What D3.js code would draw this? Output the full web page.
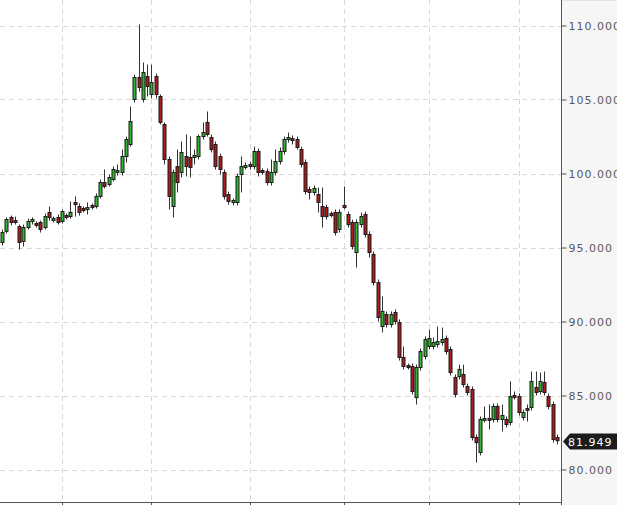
<!DOCTYPE html>
<html>
<head>
<meta charset="utf-8">
<script src="https://cdn.jsdelivr.net/npm/d3@7"></script>
<style>
  html, body { margin: 0; padding: 0; background: #fff; }
  svg { display: block; }
  .ylab { font-family: "DejaVu Sans", sans-serif; font-size: 11px; fill: #5a5a5a; letter-spacing: 1px; }
</style>
</head>
<body>
<div id="chart"></div>
<script>
// daily candles
const opens  = [95.34,96.09,97.03,96.82,96.41,95.41,96.35,96.76,96.62,96.69,96.35,97.37,96.82,97.03,96.76,97.16,97.09,98.04,97.77,97.63,
                97.57,97.84,97.77,98.45,99.39,99.26,99.59,100.07,100.07,101.15,101.96,105.00,106.49,105.00,106.55,105.34,106.55,105.20,103.31,100.95,
                97.77,100.47,100.07,101.15,101.08,101.08,101.15,102.50,103.45,102.43,101.96,101.15,100.07,98.58,98.04,98.04,99.93,100.41,100.61,100.47,
                101.49,100.20,100.14,99.39,100.07,100.81,101.49,102.30,102.36,102.30,101.62,100.74,98.92,98.72,98.58,97.77,97.70,97.30,97.37,96.22,
                97.84,97.23,96.69,94.66,96.55,97.23,95.88,94.53,92.63,89.66,90.47,89.80,90.61,89.93,87.57,87.03,86.96,84.86,86.89,87.64,
                88.31,88.31,88.45,88.58,88.85,88.11,86.22,86.28,86.42,85.61,85.41,82.16,81.15,83.32,83.45,83.38,84.26,83.38,83.38,83.18,
                85.00,84.93,83.51,84.12,84.19,85.54,85.27,85.88,84.93,84.39,82.16];
const highs  = [96.22,97.03,97.16,97.09,96.55,96.55,96.96,97.03,96.76,96.82,97.30,97.77,97.09,97.23,97.57,97.30,98.11,98.45,97.97,97.77,
                98.04,97.97,98.65,99.59,100.27,99.93,100.47,100.61,101.62,102.50,104.53,106.69,110.07,107.50,107.36,107.36,106.76,105.34,103.45,101.15,
                100.27,101.62,102.16,102.64,102.50,101.62,102.64,103.45,104.19,102.64,102.16,101.35,100.27,98.78,98.31,100.00,101.15,100.74,100.81,101.82,
                101.69,100.34,100.34,100.95,101.62,101.76,102.50,102.77,102.57,102.50,101.82,100.95,99.12,99.19,99.05,99.05,97.90,97.43,97.57,97.57,
                99.12,97.43,96.89,96.89,97.37,97.43,96.09,94.73,92.84,91.69,90.68,90.68,90.81,90.14,88.31,87.16,87.16,87.09,88.18,88.99,
                89.46,88.92,89.66,89.59,89.05,88.31,86.42,87.09,87.09,85.81,85.61,82.36,83.58,84.26,84.39,84.46,84.46,84.39,83.58,85.95,
                85.27,85.14,84.05,84.39,86.62,86.62,86.55,86.62,85.14,84.59,82.36];
const lows   = [95.13,95.95,96.49,96.55,94.86,95.07,96.22,96.55,96.35,96.01,96.22,96.82,96.69,96.55,96.62,96.89,96.96,97.09,97.16,97.37,
                97.23,97.57,97.63,98.31,98.99,99.12,99.46,99.86,99.86,100.74,101.82,104.80,105.54,104.80,105.20,105.07,105.07,103.31,100.61,97.57,
                97.03,98.72,99.73,99.80,99.73,100.61,100.95,102.30,102.50,101.42,100.27,99.93,98.24,97.90,97.84,97.84,98.72,100.27,100.27,100.27,
                99.80,99.93,99.19,99.19,99.86,100.61,101.28,102.09,101.96,101.62,100.41,98.58,98.24,98.51,97.37,96.35,96.89,97.03,95.81,96.01,
                97.57,96.35,94.86,93.65,96.35,95.68,94.32,92.43,90.00,89.26,89.59,89.59,89.80,87.36,86.76,86.76,85.07,84.39,86.69,87.43,
                88.11,88.11,88.24,88.38,87.77,86.35,84.86,86.08,85.54,85.00,81.96,80.47,80.95,83.18,82.70,83.18,83.18,82.57,82.84,82.97,
                84.73,83.65,83.31,83.24,83.99,85.00,85.07,85.00,84.05,81.82,81.69];
const closes = [96.01,96.89,96.69,96.69,95.34,96.35,96.76,96.89,96.49,96.22,97.09,97.03,96.96,96.69,97.43,97.03,97.37,97.90,97.37,97.50,
                97.70,97.70,98.45,99.39,99.12,99.73,100.27,100.20,101.15,102.30,103.51,106.49,105.81,106.82,105.88,106.15,105.34,103.45,100.95,98.45,
                100.07,99.39,101.42,100.47,100.41,101.22,102.50,102.77,102.64,101.62,100.47,100.27,98.45,98.11,98.18,99.80,100.47,100.54,100.47,101.49,
                100.07,100.07,99.39,100.07,100.81,101.49,102.30,102.43,102.23,101.76,100.61,98.78,98.72,98.99,98.04,97.09,97.09,97.16,96.01,97.37,
                97.70,96.55,95.07,96.69,97.09,95.88,94.66,92.63,90.27,90.68,89.80,90.47,90.00,87.57,86.96,86.89,85.27,86.89,87.97,88.78,
                88.85,88.58,88.65,88.78,87.97,86.55,85.07,86.76,85.74,85.20,82.16,81.82,83.38,83.45,83.32,84.26,83.38,83.65,83.04,84.93,
                84.86,83.85,83.85,83.99,85.95,85.20,85.95,85.20,84.26,82.03,81.949];

// first trading day of each month (candle index) -> vertical grid lines
const monthStarts = [14, 35, 58, 80, 100, 121];
const yTicks = [80, 85, 90, 95, 100, 105, 110];
const lastPrice = 81.949;

const width = 617, height = 505;
const plotRight = 561, plotBottom = 502;

const svg = d3.select("#chart").append("svg")
  .attr("width", width).attr("height", height);

const x = d3.scaleLinear().domain([0, closes.length - 1]).range([2, 557]);
const y = d3.scaleLinear().domain([80, 110]).range([469.5, 25.5]);

// right axis panel
svg.append("rect").attr("x", plotRight).attr("y", 0)
  .attr("width", width - plotRight).attr("height", height).attr("fill", "#f6f6f6");
svg.append("line").attr("x1", plotRight).attr("x2", width).attr("y1", 0.5).attr("y2", 0.5)
  .attr("stroke", "#dde6ee");

// grid
svg.append("g").selectAll("line").data(yTicks).join("line")
  .attr("x1", 0).attr("x2", plotRight)
  .attr("y1", d => Math.round(y(d)) + 0.5).attr("y2", d => Math.round(y(d)) + 0.5)
  .attr("stroke", "#d8d8d8").attr("stroke-dasharray", "5,4");
svg.append("g").selectAll("line").data(monthStarts).join("line")
  .attr("x1", d => Math.round(x(d)) + 0.5).attr("x2", d => Math.round(x(d)) + 0.5)
  .attr("y1", 0).attr("y2", plotBottom)
  .attr("stroke", "#d8d8d8").attr("stroke-dasharray", "5,4");

// candles
const idx = d3.range(closes.length);
const candles = svg.append("g");
candles.selectAll("line").data(idx).join("line")
  .attr("x1", i => Math.round(x(i)) + 0.5).attr("x2", i => Math.round(x(i)) + 0.5)
  .attr("y1", i => y(highs[i])).attr("y2", i => y(lows[i]))
  .attr("stroke", "#333");
candles.selectAll("rect").data(idx).join("rect")
  .attr("x", i => Math.round(x(i)) - 1)
  .attr("width", 3)
  .attr("y", i => y(Math.max(opens[i], closes[i])))
  .attr("height", i => Math.max(1, Math.abs(y(opens[i]) - y(closes[i]))))
  .attr("fill", i => closes[i] >= opens[i] ? "#2fb52f" : "#a81c1c")
  .attr("stroke", "#1a1a1a").attr("stroke-width", 1);

// frame
svg.append("line").attr("x1", plotRight + 0.5).attr("x2", plotRight + 0.5)
  .attr("y1", 0).attr("y2", height).attr("stroke", "#555");
svg.append("line").attr("x1", 0).attr("x2", plotRight).attr("y1", plotBottom + 0.5).attr("y2", plotBottom + 0.5)
  .attr("stroke", "#555");
svg.append("g").selectAll("line").data(monthStarts).join("line")
  .attr("x1", d => Math.round(x(d)) + 0.5).attr("x2", d => Math.round(x(d)) + 0.5)
  .attr("y1", plotBottom).attr("y2", height)
  .attr("stroke", "#555");

// right axis
const yAxis = svg.append("g")
  .attr("transform", `translate(${plotRight + 0.5},0)`)
  .call(d3.axisRight(y).tickValues(yTicks).tickSize(5).tickPadding(2).tickFormat(d3.format(".3f")));
yAxis.select(".domain").remove();
yAxis.selectAll(".tick line").attr("stroke", "#555");
yAxis.selectAll(".tick text").attr("class", "ylab").attr("fill", null);

// last price marker
const ly = Math.round(y(lastPrice)) + 0.5;
svg.append("path")
  .attr("d", `M${plotRight + 2},${ly} L${plotRight + 9},${ly - 8} L${width},${ly - 8} L${width},${ly + 8} L${plotRight + 9},${ly + 8} Z`)
  .attr("fill", "#1c1c1c");
svg.append("text").attr("class", "ylab")
  .attr("x", plotRight + 7).attr("y", ly + 4)
  .style("fill", "#fff")
  .text(lastPrice.toFixed(3));
</script>
</body>
</html>
